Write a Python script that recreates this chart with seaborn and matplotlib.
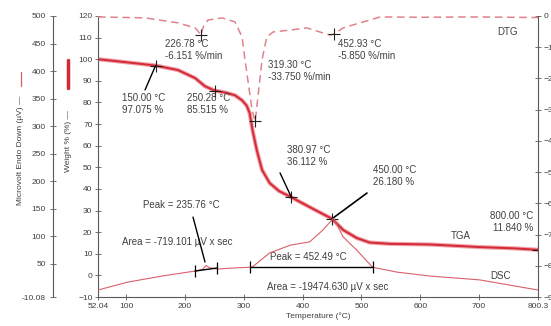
import matplotlib
matplotlib.use("Agg")
import matplotlib.pyplot as plt
from matplotlib.lines import Line2D
import numpy as np
import seaborn as sns

# TGA weight curve (%)
tga_temp = [52.04, 80, 110, 150, 188, 217, 234, 250.28, 270, 285, 297, 305, 310, 315,
            322, 331, 344, 360, 380.97, 412, 450, 469, 492, 514, 548, 616, 701, 760, 800.3]
tga_weight = [100.0, 99.2, 98.3, 97.075, 95.0, 91.3, 87.5, 85.515, 84.5, 83.3, 81.0, 78.5,
              75.0, 67.0, 58.0, 48.8, 42.7, 39.0, 36.112, 31.6, 26.18, 21.0, 17.3, 15.2,
              14.6, 14.3, 13.1, 12.5, 11.84]

# DTG curve (%/min)
dtg_temp = [52.04, 132, 188, 217, 222, 226.78, 232, 239, 263, 285, 297, 302, 310, 314,
            319.3, 324, 331, 339, 350, 379, 407, 429, 446, 452.93, 469, 503, 532, 600,
            700, 800.3]
dtg_rate = [-0.3, -0.6, -2.2, -3.8, -4.8, -6.151, -3.0, -1.3, -0.6, -1.9, -6.7, -14.0,
            -24.7, -30.0, -33.75, -26.0, -14.0, -6.7, -5.1, -4.5, -3.8, -5.1, -6.1,
            -5.85, -3.8, -1.9, -0.3, -0.4, -0.3, -0.5]

# DSC curve (µV)
dsc_temp = [52.04, 103, 161, 217, 230, 235.76, 242, 254, 290, 314, 344, 379, 412, 435,
            452.49, 469, 492, 519, 561, 616, 701, 800.3]
dsc_uv = [2.6, 17.0, 28.0, 37.0, 40.0, 47.0, 43.0, 40.7, 43.0, 44.0, 70.0, 84.0, 90.0,
          112.0, 133.0, 99.0, 75.0, 44.0, 35.0, 28.0, 21.0, 2.6]

# DSC integration baselines
base1_temp = [217, 254]
base1_uv = [37.0, 42.5]
base2_temp = [310, 519]
base2_uv = [44.0, 44.0]

# marked points
tga_mark_temp = [150.0, 250.28, 380.97, 450.0, 800.0]
tga_mark_weight = [97.075, 85.515, 36.112, 26.18, 11.84]
dtg_mark_temp = [226.78, 319.3, 452.93]
dtg_mark_rate = [-6.151, -33.75, -5.85]

x_ticks = [52.04, 100, 200, 300, 400, 500, 600, 700, 800.3]
x_labels = ["52.04", "100", "200", "300", "400", "500", "600", "700", "800.3"]
w_ticks = list(range(-10, 121, 10))
dsc_ticks = [-10.08, 50, 100, 150, 200, 250, 300, 350, 400, 450, 500]
dsc_labels = ["-10.08", "50", "100", "150", "200", "250", "300", "350", "400", "450", "500"]
dtg_ticks = list(range(-90, 1, 10))

sns.set_theme(style="ticks")
plt.rcParams["font.family"] = ["Liberation Sans", "DejaVu Sans"]

RED = "#d42a36"
PINK = "#e0838b"
DSC_C = "#d8606a"
SPINE = "#5a5a5a"
TXT = "#404040"

fig = plt.figure(figsize=(5.51, 3.26), dpi=100)
ax = fig.add_axes([98 / 551, 1 - 297 / 326, 440 / 551, 281 / 326])
ax_dsc = ax.twinx()
ax_dtg = ax.twinx()

sns.lineplot(x=dtg_temp, y=dtg_rate, ax=ax_dtg, color=PINK, lw=1.1, linestyle=(0, (5, 3)))
sns.lineplot(x=dsc_temp, y=dsc_uv, ax=ax_dsc, color=DSC_C, lw=0.8)
sns.lineplot(x=tga_temp, y=tga_weight, ax=ax, color="#f0a0a8", lw=3.0)
sns.lineplot(x=tga_temp, y=tga_weight, ax=ax, color=RED, lw=1.4)

# baselines with end ticks
for bt, bv in [(base1_temp, base1_uv), (base2_temp, base2_uv)]:
    ax_dsc.plot(bt, bv, color="black", lw=1.0)
    ax_dsc.plot(bt, bv, ls="none", marker="|", ms=9, mew=0.9, color="black")

ax.plot(tga_mark_temp, tga_mark_weight, ls="none", marker="+", ms=9, mew=0.8, color="#222222")
ax_dtg.plot(dtg_mark_temp, dtg_mark_rate, ls="none", marker="+", ms=9, mew=0.8, color="#222222")

# limits / ticks
ax.set_xlim(52.04, 800.3)
ax.set_ylim(-10, 120)
ax_dsc.set_ylim(-10.08, 500)
ax_dtg.set_ylim(-90, 0)
ax.set_xticks(x_ticks)
ax.set_xticklabels(x_labels)
ax.set_yticks(w_ticks)
ax_dsc.set_yticks(dsc_ticks)
ax_dsc.set_yticklabels(dsc_labels)
ax_dtg.set_yticks(dtg_ticks)

ax_dsc.yaxis.set_ticks_position("left")
ax_dsc.yaxis.set_label_position("left")
ax_dsc.spines["left"].set_position(("axes", -45 / 440))

for a in (ax, ax_dsc, ax_dtg):
    for s in a.spines.values():
        s.set_visible(False)
    a.tick_params(direction="inout", length=4, width=0.6, colors=SPINE,
                  labelsize=6, labelcolor=TXT)
ax.spines["left"].set_visible(True)
ax.spines["bottom"].set_visible(True)
ax_dsc.spines["left"].set_visible(True)
ax_dtg.spines["right"].set_visible(True)
for s in (ax.spines["left"], ax.spines["bottom"], ax_dsc.spines["left"], ax_dtg.spines["right"]):
    s.set_color(SPINE)
    s.set_linewidth(0.8)
ax.tick_params(axis="y", pad=2)
ax_dsc.tick_params(axis="y", pad=3)
ax_dtg.tick_params(axis="y", pad=2)
ax.tick_params(axis="x", pad=2)

ax.set_xlabel("Temperature (°C)", fontsize=6, color=TXT, labelpad=2)
ax.set_ylabel("")

# axis titles with line samples
fig.text(68 / 551, 1 - 141 / 326, "Weight % (%) —", rotation=90, fontsize=6,
         color=TXT, ha="center", va="center")
fig.add_artist(Line2D([68 / 551, 68 / 551], [1 - 60 / 326, 1 - 88 / 326],
                      transform=fig.transFigure, color=RED, lw=2.5))
fig.text(21 / 551, 1 - 150 / 326, "Microvolt Endo Down (µV) —", rotation=90, fontsize=6,
         color=TXT, ha="center", va="center")
fig.add_artist(Line2D([21 / 551, 21 / 551], [1 - 72 / 326, 1 - 86 / 326],
                      transform=fig.transFigure, color=DSC_C, lw=0.9))

# leader lines
ax.plot([132, 150], [85.8, 97.075], color="black", lw=1.0)
ax.plot([361.6, 380.97], [47.4, 36.112], color="black", lw=1.0)
ax.plot([509.5, 450], [38.1, 26.18], color="black", lw=1.2)
ax_dsc.plot([213.6, 234], [135, 53.5], color="black", lw=1.0)

kw = dict(fontsize=7, color=TXT, linespacing=1.25, va="center")
ax.text(166, 104.3, "226.78 °C\n-6.151 %/min", **kw)
ax.text(93, 79.3, "150.00 °C\n97.075 %", **kw)
ax.text(203, 79.3, "250.28 °C\n85.515 %", **kw)
ax.text(341, 94.6, "319.30 °C\n-33.750 %/min", **kw)
ax.text(460, 104.3, "452.93 °C\n-5.850 %/min", **kw)
ax.text(373.5, 55.2, "380.97 °C\n36.112 %", **kw)
ax.text(519.7, 46.0, "450.00 °C\n26.180 %", **kw)
ax.text(792, 24.7, "800.00 °C\n11.840 %", ha="right", **{k: v for k, v in kw.items()})
ax.text(669, 18.2, "TGA", ha="center", **kw)
ax.text(737, -0.3, "DSC", ha="center", **kw)
ax.text(748, 112.6, "DTG", ha="center", **kw)
ax.text(128.6, 32.6, "Peak = 235.76 °C", **kw)
ax.text(92.8, 15.4, "Area = -719.101 µV x sec", **kw)
ax.text(344.6, 8.5, "Peak = 452.49 °C", **kw)
ax.text(339.5, -5.4, "Area = -19474.630 µV x sec", **kw)

fig.savefig("out.png", dpi=100)
